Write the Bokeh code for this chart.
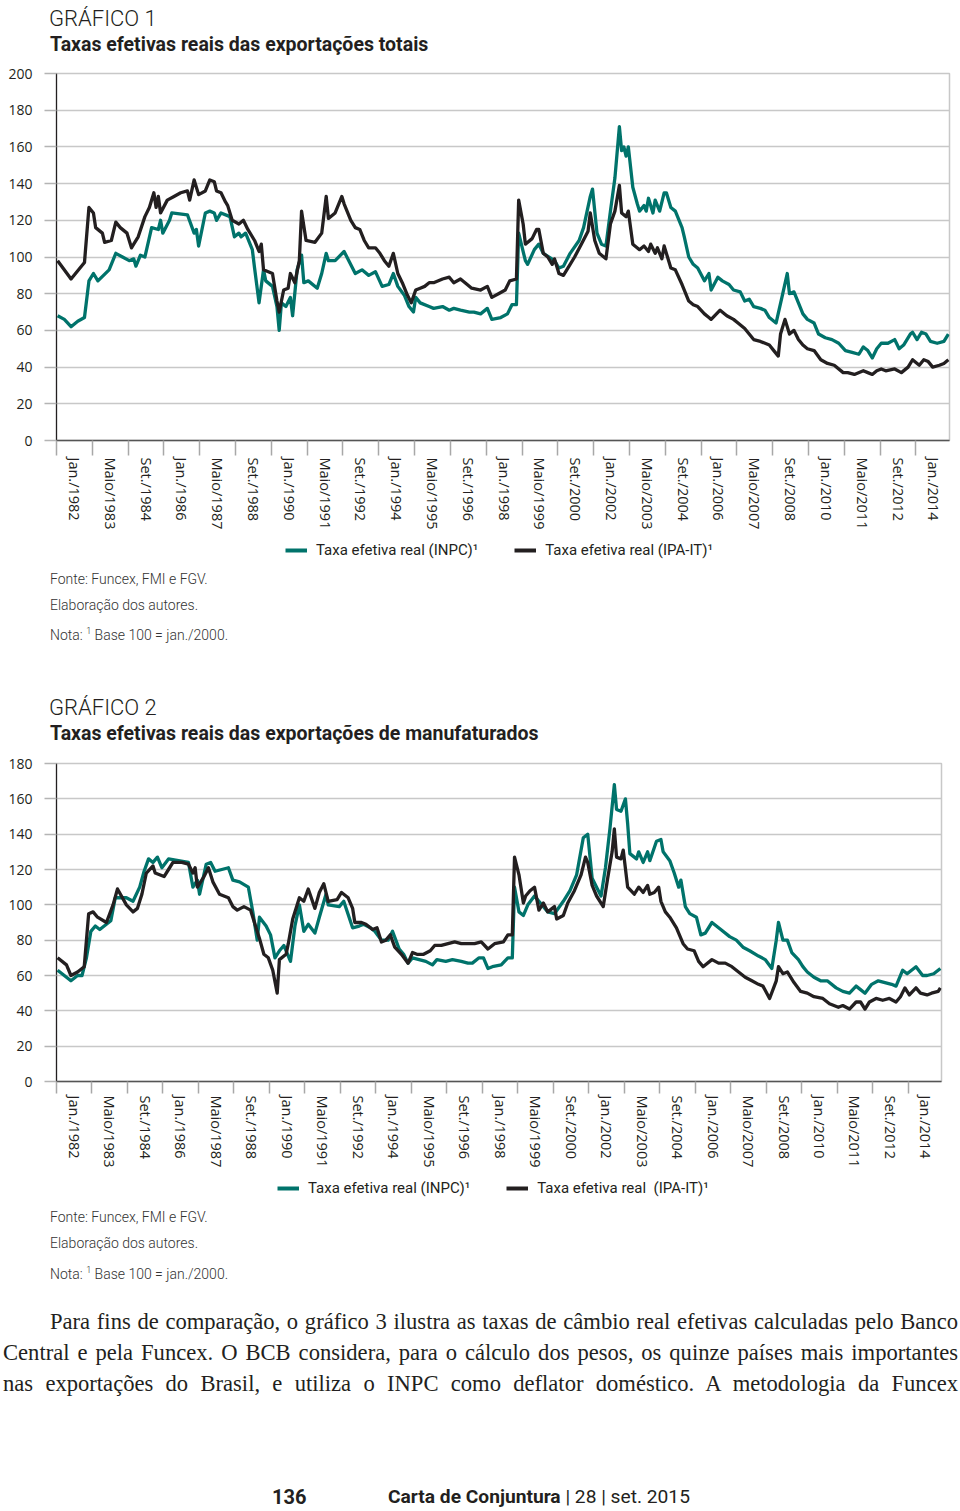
import math
from bokeh.plotting import figure
from bokeh.models import Range1d, FixedTicker, Legend, LegendItem, Div
from bokeh.layouts import column
from bokeh.embed import file_html
from bokeh.resources import INLINE

TEAL = "#00736b"
BLACK = "#231f20"
N_MONTHS = 399  # Jan/1982 .. Mar/2015, one category per month

tick_labels = ["Jan./1982", "Maio/1983", "Set./1984", "Jan./1986", "Maio/1987", "Set./1988",
               "Jan./1990", "Maio/1991", "Set./1992", "Jan./1994", "Maio/1995", "Set./1996",
               "Jan./1998", "Maio/1999", "Set./2000", "Jan./2002", "Maio/2003", "Set./2004",
               "Jan./2006", "Maio/2007", "Set./2008", "Jan./2010", "Maio/2011", "Set./2012",
               "Jan./2014"]

# ---- GRÁFICO 1: exportações totais (month index since Jan/1982, value) ----
inpc_tot_m = [0, 3, 6, 9, 12, 14, 16, 18, 23, 26, 29, 32, 34, 35, 37, 39, 42, 45, 46, 47, 50, 51, 58, 61, 62, 63, 66, 68, 70, 71, 73, 77, 79, 81, 82, 84, 87, 88, 90, 92, 93, 96, 98, 99, 100, 102, 104, 105, 107, 109, 110, 112, 116, 118, 120, 121, 124, 128, 133, 136, 139, 142, 145, 148, 150, 152, 155, 157, 159, 160, 162, 166, 168, 172, 175, 177, 180, 184, 186, 189, 192, 194, 198, 201, 203, 205, 206, 209, 210, 213, 215, 217, 222, 224, 226, 229, 233, 235, 238, 239, 241, 243, 245, 247, 249, 251, 252, 253, 254, 255, 257, 259, 260, 262, 263, 264, 266, 267, 269, 271, 272, 274, 276, 279, 280, 282, 284, 286, 289, 291, 292, 295, 297, 300, 302, 305, 307, 309, 311, 314, 316, 318, 321, 324, 326, 327, 329, 331, 333, 335, 338, 340, 343, 346, 349, 352, 355, 358, 360, 362, 364, 366, 368, 371, 374, 376, 378, 381, 382, 384, 386, 388, 390, 393, 396, 398]
inpc_tot_v = [68, 66, 62, 65, 67, 87, 91, 87, 93, 102, 100, 98, 99, 95, 101, 100, 116, 115, 120, 113, 120, 124, 123, 113, 115, 106, 124, 125, 124, 120, 124, 122, 111, 113, 111, 113, 104, 94, 75, 93, 87, 84, 73, 60, 75, 73, 78, 68, 93, 101, 86, 87, 83, 91, 102, 98, 98, 103, 91, 93, 90, 92, 84, 85, 91, 84, 79, 73, 70, 78, 75, 73, 72, 73, 71, 72, 71, 70, 70, 69, 72, 66, 67, 69, 74, 74, 113, 98, 96, 104, 107, 102, 98, 94, 95, 102, 109, 116, 133, 137, 113, 107, 106, 125, 143, 171, 158, 160, 155, 160, 138, 129, 125, 128, 125, 132, 124, 131, 125, 135, 135, 127, 125, 116, 111, 100, 96, 94, 87, 91, 82, 89, 87, 85, 82, 81, 76, 77, 73, 72, 71, 67, 64, 80, 91, 80, 81, 75, 69, 66, 64, 58, 56, 55, 53, 49, 48, 47, 51, 49, 45, 50, 53, 53, 55, 50, 52, 58, 59, 55, 59, 58, 54, 53, 54, 58]

ipa_tot_m = [0, 6, 12, 14, 16, 17, 20, 21, 24, 26, 28, 31, 33, 34, 36, 39, 41, 43, 44, 45, 46, 49, 52, 55, 58, 59, 61, 63, 66, 68, 70, 71, 73, 75, 76, 78, 81, 83, 85, 88, 90, 91, 92, 96, 98, 99, 101, 103, 104, 106, 108, 109, 111, 115, 118, 120, 121, 124, 125, 127, 128, 131, 133, 135, 137, 139, 142, 144, 146, 148, 150, 152, 154, 156, 158, 160, 162, 164, 166, 168, 172, 175, 177, 180, 183, 185, 189, 192, 194, 197, 200, 202, 205, 206, 208, 209, 212, 214, 215, 217, 219, 221, 222, 224, 226, 229, 231, 234, 237, 238, 240, 242, 245, 247, 249, 251, 252, 254, 255, 257, 260, 262, 264, 265, 267, 268, 270, 271, 274, 276, 279, 280, 282, 284, 286, 289, 291, 292, 296, 299, 302, 304, 307, 309, 311, 314, 318, 320, 322, 323, 325, 327, 329, 331, 333, 335, 338, 341, 344, 347, 351, 353, 356, 360, 362, 364, 366, 368, 370, 374, 377, 380, 382, 385, 387, 389, 391, 394, 396, 398]
ipa_tot_v = [98, 88, 97, 127, 124, 116, 113, 108, 109, 119, 116, 113, 105, 107, 111, 122, 127, 135, 127, 133, 124, 131, 133, 135, 136, 131, 142, 134, 136, 142, 141, 136, 135, 130, 128, 120, 118, 120, 115, 109, 103, 107, 93, 91, 76, 70, 82, 83, 91, 86, 98, 125, 109, 108, 113, 133, 121, 124, 127, 133, 129, 120, 116, 115, 109, 105, 105, 102, 98, 95, 102, 91, 86, 80, 75, 82, 83, 84, 86, 86, 88, 89, 86, 88, 85, 83, 82, 84, 78, 80, 82, 87, 88, 131, 118, 107, 110, 115, 115, 102, 100, 96, 99, 91, 90, 96, 100, 107, 114, 124, 109, 102, 99, 118, 125, 139, 124, 122, 125, 107, 104, 106, 103, 107, 102, 105, 99, 106, 94, 93, 85, 82, 76, 74, 73, 69, 67, 66, 71, 68, 66, 64, 61, 58, 55, 54, 52, 49, 46, 58, 66, 58, 60, 55, 52, 50, 49, 44, 42, 41, 37, 37, 36, 38, 37, 36, 38, 39, 38, 39, 37, 40, 44, 41, 44, 43, 40, 41, 42, 44]

# ---- GRÁFICO 2: exportações de manufaturados ----
inpc_man_m = [0, 6, 9, 11, 13, 15, 17, 19, 24, 26, 31, 34, 37, 39, 41, 43, 45, 47, 50, 59, 61, 63, 64, 67, 69, 71, 77, 79, 82, 86, 88, 90, 91, 94, 96, 98, 100, 102, 105, 107, 109, 111, 113, 116, 118, 121, 122, 127, 129, 133, 136, 138, 141, 143, 146, 149, 151, 154, 156, 158, 160, 163, 166, 169, 171, 175, 178, 182, 185, 187, 190, 192, 194, 196, 200, 203, 205, 206, 208, 210, 212, 215, 219, 221, 224, 228, 231, 234, 237, 239, 241, 243, 245, 247, 249, 251, 252, 254, 256, 257, 258, 261, 262, 264, 266, 267, 270, 272, 273, 276, 278, 280, 281, 283, 285, 288, 290, 292, 295, 299, 303, 306, 309, 312, 316, 319, 322, 324, 325, 327, 329, 331, 334, 336, 338, 341, 344, 347, 351, 354, 357, 360, 362, 364, 367, 370, 373, 376, 378, 381, 383, 387, 390, 392, 395, 398]
inpc_man_v = [63, 57, 60, 60, 70, 85, 88, 86, 91, 104, 104, 102, 110, 119, 126, 124, 127, 121, 126, 124, 110, 114, 106, 123, 124, 119, 121, 114, 113, 110, 96, 80, 93, 88, 83, 70, 74, 77, 68, 88, 100, 85, 89, 84, 93, 106, 100, 99, 102, 87, 88, 89, 87, 85, 80, 80, 85, 75, 72, 67, 70, 69, 68, 66, 69, 68, 69, 68, 67, 67, 70, 70, 64, 65, 66, 70, 70, 110, 96, 94, 100, 105, 99, 96, 95, 102, 108, 117, 138, 140, 115, 110, 105, 121, 143, 168, 154, 153, 160, 146, 129, 126, 130, 124, 130, 125, 136, 137, 130, 125, 118, 110, 114, 99, 95, 93, 83, 84, 90, 86, 82, 80, 76, 74, 71, 69, 64, 80, 90, 80, 80, 73, 69, 65, 62, 59, 57, 57, 53, 51, 50, 54, 52, 50, 55, 57, 56, 55, 54, 63, 61, 65, 60, 60, 61, 64]

ipa_man_m = [0, 3, 4, 6, 9, 12, 14, 16, 18, 22, 25, 27, 31, 34, 36, 38, 40, 43, 44, 48, 50, 52, 56, 59, 61, 62, 63, 66, 68, 70, 73, 77, 79, 81, 84, 87, 88, 91, 93, 95, 97, 99, 100, 103, 104, 106, 109, 111, 113, 116, 118, 120, 122, 126, 128, 131, 133, 134, 137, 139, 142, 144, 146, 148, 150, 152, 155, 158, 160, 162, 165, 168, 170, 173, 176, 179, 182, 185, 188, 191, 194, 197, 201, 203, 205, 206, 208, 210, 211, 213, 215, 217, 219, 221, 224, 225, 228, 230, 233, 236, 238, 239, 241, 243, 246, 248, 250, 251, 252, 254, 255, 257, 260, 262, 264, 266, 267, 269, 271, 272, 274, 276, 279, 281, 282, 284, 287, 289, 291, 295, 298, 301, 304, 307, 310, 313, 316, 318, 321, 324, 325, 327, 329, 332, 335, 338, 341, 345, 348, 352, 354, 357, 360, 362, 364, 366, 369, 372, 375, 378, 380, 382, 384, 387, 389, 392, 394, 397, 398]
ipa_man_v = [70, 67, 66, 60, 62, 65, 95, 96, 93, 90, 100, 109, 100, 96, 98, 106, 118, 122, 118, 116, 120, 124, 124, 123, 118, 121, 110, 116, 121, 113, 106, 104, 99, 97, 99, 97, 93, 81, 72, 70, 63, 50, 69, 72, 78, 92, 104, 102, 109, 98, 107, 112, 102, 103, 107, 104, 98, 90, 90, 89, 86, 87, 79, 80, 83, 76, 72, 67, 73, 72, 72, 74, 77, 77, 78, 79, 78, 78, 78, 79, 75, 78, 79, 83, 83, 127, 117, 101, 105, 108, 110, 97, 101, 96, 99, 92, 94, 101, 108, 117, 127, 124, 111, 105, 99, 115, 130, 143, 127, 126, 131, 110, 106, 110, 107, 111, 106, 107, 110, 102, 96, 93, 87, 81, 78, 75, 74, 68, 65, 69, 67, 67, 65, 62, 59, 57, 55, 54, 47, 57, 65, 61, 62, 56, 51, 50, 48, 47, 44, 42, 43, 41, 45, 45, 41, 45, 47, 46, 47, 45, 48, 53, 49, 53, 50, 49, 50, 51, 53]

legend_1 = ["Taxa efetiva real (INPC)\u00b9", "Taxa efetiva real (IPA-IT)\u00b9"]
legend_2 = ["Taxa efetiva real (INPC)\u00b9", "Taxa efetiva real  (IPA-IT)\u00b9"]

LINE_W = 3.3


def chart(ymax, m_a, v_a, m_b, v_b, left, right, frame_h, bottom, tick_len):
    p = figure(frame_width=right - left, frame_height=frame_h,
               x_range=Range1d(0, N_MONTHS), y_range=Range1d(0, ymax),
               output_backend="svg", toolbar_location=None,
               min_border_left=left, min_border_right=960 - right,
               min_border_top=13, min_border_bottom=bottom, margin=(0, 0, 0, 0))
    p.title.text = ""
    p.background_fill_color = "white"
    p.border_fill_color = "white"
    p.outline_line_color = "#c8c8c8"
    p.outline_line_width = 1.5

    p.line([m + 0.5 for m in m_a], v_a, line_color=TEAL, line_width=LINE_W, line_join="round")
    p.line([m + 0.5 for m in m_b], v_b, line_color=BLACK, line_width=LINE_W, line_join="round")

    p.xgrid.grid_line_color = None
    p.ygrid.grid_line_color = "#c8c8c8"
    p.ygrid.grid_line_width = 1.5

    yax = p.yaxis[0]
    yax.ticker = FixedTicker(ticks=list(range(0, ymax + 1, 20)))
    yax.axis_line_color = BLACK
    yax.axis_line_width = 1.2
    yax.major_tick_out = 12
    yax.major_tick_in = 0
    yax.major_tick_line_color = "#b4b4b4"
    yax.major_tick_line_width = 1.5
    yax.minor_tick_line_color = None
    yax.major_label_standoff = 12
    yax.major_label_text_font = "Open Sans"
    yax.major_label_text_font_size = "14px"
    yax.major_label_text_color = BLACK

    xax = p.xaxis[0]
    xax.ticker = FixedTicker(ticks=[16 * k + 8 for k in range(len(tick_labels))],
                             minor_ticks=[16 * k for k in range(len(tick_labels))])
    xax.major_label_overrides = {16 * k + 8: t for k, t in enumerate(tick_labels)}
    xax.axis_line_color = "#555555"
    xax.axis_line_width = 1.5
    xax.major_tick_line_color = None
    xax.major_tick_out = tick_len
    xax.major_tick_in = 0
    xax.minor_tick_out = tick_len
    xax.minor_tick_in = 0
    xax.minor_tick_line_color = "#a8a8a8"
    xax.minor_tick_line_width = 1.5
    xax.major_label_orientation = "vertical"
    xax.major_label_standoff = 2
    xax.major_label_text_font = "Open Sans"
    xax.major_label_text_font_size = "14.5px"
    xax.major_label_text_color = BLACK
    return p


def legend_fig(labels, m_a, v_a, m_b, v_b, height, x0, y0):
    # legend strip: the same two series are attached (outside this strip's visible y range)
    q = figure(width=960, height=height, x_range=Range1d(0, N_MONTHS), y_range=Range1d(500, 600),
               output_backend="svg", toolbar_location=None,
               x_axis_location=None, y_axis_location=None,
               min_border=0, margin=(0, 0, 0, 0))
    q.title.text = ""
    q.outline_line_color = None
    q.grid.grid_line_color = None
    r_a = q.line([m + 0.5 for m in m_a], v_a, line_color=TEAL, line_width=4)
    r_b = q.line([m + 0.5 for m in m_b], v_b, line_color=BLACK, line_width=4)
    legend = Legend(items=[LegendItem(label=labels[0], renderers=[r_a]),
                           LegendItem(label=labels[1], renderers=[r_b])],
                    orientation="horizontal", location=(x0, y0),
                    border_line_color=None, background_fill_alpha=0,
                    label_text_font="Roboto", label_text_font_size="15px",
                    label_text_color=BLACK, glyph_width=22, glyph_height=18,
                    label_height=20, label_standoff=9, spacing=36, padding=3, margin=0)
    q.add_layout(legend, "center")
    return q


# frame 1: x 55..948, y 73..440 ; frame 2: x 56..941, y 763..1081
fig1 = chart(200, inpc_tot_m, inpc_tot_v, ipa_tot_m, ipa_tot_v, 55, 948, 367, 95, 15)
leg1 = legend_fig(legend_1, inpc_tot_m, inpc_tot_v, ipa_tot_m, ipa_tot_v, 35, 229, 10)
fig2 = chart(180, inpc_man_m, inpc_man_v, ipa_man_m, ipa_man_v, 56, 941, 318, 92, 12)
leg2 = legend_fig(legend_2, inpc_man_m, inpc_man_v, ipa_man_m, ipa_man_v, 34, 221, 9)

FONT = "font-family:Roboto;color:#231f20;white-space:nowrap;position:absolute;"


def title_block(top, num, sub):
    return (f'<div style="{FONT}left:49px;top:{top}px;font-size:22px;font-weight:300;line-height:26px;">GR\u00c1FICO {num}</div>'
            f'<div style="{FONT}left:50px;top:{top + 27.5}px;font-size:19.5px;font-weight:700;line-height:22px;">{sub}</div>')


def notes_block(centers):
    texts = ["Fonte: Funcex, FMI e FGV.", "Elabora\u00e7\u00e3o dos autores.",
             "Nota: <sup style='font-size:9px'>1</sup> Base 100 = jan./2000."]
    return "".join(
        f'<div style="{FONT}left:50px;top:{c - 10}px;font-size:14px;font-weight:300;line-height:20px;color:#333;">{t}</div>'
        for c, t in zip(centers, texts))


divA = Div(text='<div style="position:relative;width:960px;height:60px;">'
                + title_block(6, 1, "Taxas efetivas reais das exporta\u00e7\u00f5es totais") + '</div>',
           width=960, height=60, margin=(0, 0, 0, 0))

divB = Div(text='<div style="position:relative;width:960px;height:180px;">'
                + notes_block([9, 35, 61])
                + title_block(125.4, 2, "Taxas efetivas reais das exporta\u00e7\u00f5es de manufaturados") + '</div>',
           width=960, height=180, margin=(0, 0, 0, 0))

SERIF = "font-family:'Liberation Serif';font-size:22.6px;line-height:30px;color:#231f20;position:absolute;white-space:nowrap;text-align:justify;text-align-last:justify;"
para = [
    (50, 908, "Para fins de compara\u00e7\u00e3o, o gr\u00e1fico 3 ilustra as taxas de c\u00e2mbio real efetivas calculadas pelo Banco"),
    (3, 955, "Central e pela Funcex. O BCB considera, para o c\u00e1lculo dos pesos, os quinze pa\u00edses mais importantes"),
    (3, 955, "nas exporta\u00e7\u00f5es do Brasil, e utiliza o INPC como deflator dom\u00e9stico. A metodologia da Funcex"),
]
para_html = "".join(
    f'<div style="{SERIF}left:{x}px;width:{w}px;top:{c - 15}px;">{t}</div>'
    for (x, w, t), c in zip(para, [115, 146, 177]))

footer_html = (f'<div style="{FONT}left:272px;top:278px;font-size:20px;line-height:24px;font-weight:700;">136</div>'
               f'<div style="{FONT}left:388px;top:278px;font-size:19.2px;line-height:24px;">'
               f'<b>Carta de Conjuntura</b> | 28 | set. 2015</div>')

divC = Div(text='<div style="position:relative;width:960px;height:304px;">'
                + notes_block([10, 36, 63]) + para_html + footer_html + '</div>',
           width=960, height=304, margin=(0, 0, 0, 0))

page = column(divA, fig1, leg1, divB, fig2, leg2, divC, spacing=0, margin=(0, 0, 0, 0))

open("out.html", "w").write(file_html(page, INLINE))
